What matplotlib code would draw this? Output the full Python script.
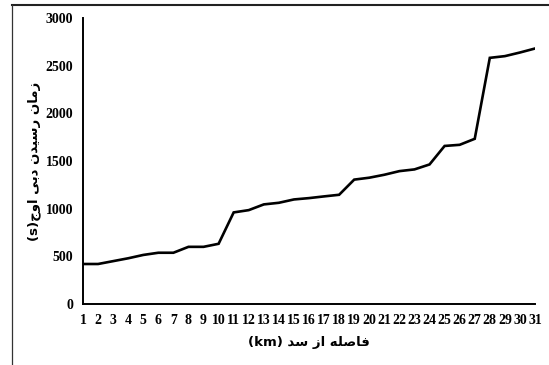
import matplotlib
matplotlib.use('Agg')
import matplotlib.pyplot as plt
from matplotlib.lines import Line2D

# Peak discharge arrival time vs. distance from the dam
distance_km = list(range(1, 32))
arrival_s = [420, 420, 450, 480, 515, 538, 538, 600, 600, 632,
             961, 985, 1045, 1062, 1097, 1111, 1129, 1146, 1305, 1325,
             1356, 1394, 1412, 1464, 1658, 1670, 1733, 2582, 2600, 2638, 2680]
y_ticks = [0, 500, 1000, 1500, 2000, 2500, 3000]

# Arabic presentation forms (isolated, final[, initial, medial]) so that the
# Persian labels come out joined and right-to-left without a shaping engine
FORMS = {
    'ا': ('\uFE8D', '\uFE8E'),
    'ب': ('\uFE8F', '\uFE90', '\uFE91', '\uFE92'),
    'ج': ('\uFE9D', '\uFE9E', '\uFE9F', '\uFEA0'),
    'د': ('\uFEA9', '\uFEAA'),
    'ر': ('\uFEAD', '\uFEAE'),
    'ز': ('\uFEAF', '\uFEB0'),
    'س': ('\uFEB1', '\uFEB2', '\uFEB3', '\uFEB4'),
    'ص': ('\uFEB9', '\uFEBA', '\uFEBB', '\uFEBC'),
    'ف': ('\uFED1', '\uFED2', '\uFED3', '\uFED4'),
    'ل': ('\uFEDD', '\uFEDE', '\uFEDF', '\uFEE0'),
    'م': ('\uFEE1', '\uFEE2', '\uFEE3', '\uFEE4'),
    'ن': ('\uFEE5', '\uFEE6', '\uFEE7', '\uFEE8'),
    'ه': ('\uFEE9', '\uFEEA', '\uFEEB', '\uFEEC'),
    'و': ('\uFEED', '\uFEEE'),
    'ی': ('\uFEEF', '\uFEF0', '\uFEF3', '\uFEF4'),
}


def rtl(text):
    out = []
    for i, c in enumerate(text):
        if c not in FORMS:
            out.append(c)
            continue
        prev = text[i - 1] if i > 0 else ''
        nxt = text[i + 1] if i + 1 < len(text) else ''
        f = FORMS[c]
        join_prev = prev in FORMS and len(FORMS[prev]) == 4
        join_next = len(f) == 4 and nxt in FORMS
        if join_prev and join_next:
            out.append(f[3])
        elif join_prev:
            out.append(f[1])
        elif join_next:
            out.append(f[2])
        else:
            out.append(f[0])
    return ''.join(reversed(out))


fig = plt.figure(figsize=(5.49, 3.65), dpi=100)
ax = fig.add_axes([0.1512, 0.167, 0.8233, 0.7837])

ax.plot(distance_km, arrival_s, color='black', linewidth=1.9,
        solid_joinstyle='miter')

ax.set_xlim(1, 31)
ax.set_ylim(0, 3000)
ax.set_xticks(distance_km)
ax.set_yticks(y_ticks)
ax.tick_params(length=0, pad=7)
for lbl in ax.get_xticklabels() + ax.get_yticklabels():
    lbl.set_fontfamily('Liberation Serif')
    lbl.set_fontweight('bold')
    lbl.set_fontsize(10)

for side in ['top', 'right']:
    ax.spines[side].set_visible(False)
for side in ['left', 'bottom']:
    ax.spines[side].set_linewidth(1.4)
    ax.spines[side].set_color('black')

ax.set_xlabel('(km) ' + rtl('فاصله از سد'), fontfamily='DejaVu Sans',
              fontweight='bold', fontsize=9.5, labelpad=7)
ax.set_ylabel('(s)' + rtl('زمان رسیدن دبی اوج'), fontfamily='DejaVu Sans',
              fontweight='bold', fontsize=9.5, labelpad=3)

# Outer frame (top and left edges)
fig.add_artist(Line2D([12 / 549, 1.0], [1 - 5 / 365, 1 - 5 / 365],
                      transform=fig.transFigure, color='#222222', linewidth=1.5))
fig.add_artist(Line2D([12 / 549, 12 / 549], [0.0, 1 - 5 / 365],
                      transform=fig.transFigure, color='#333333', linewidth=0.9))

fig.savefig('out.png', dpi=100)
